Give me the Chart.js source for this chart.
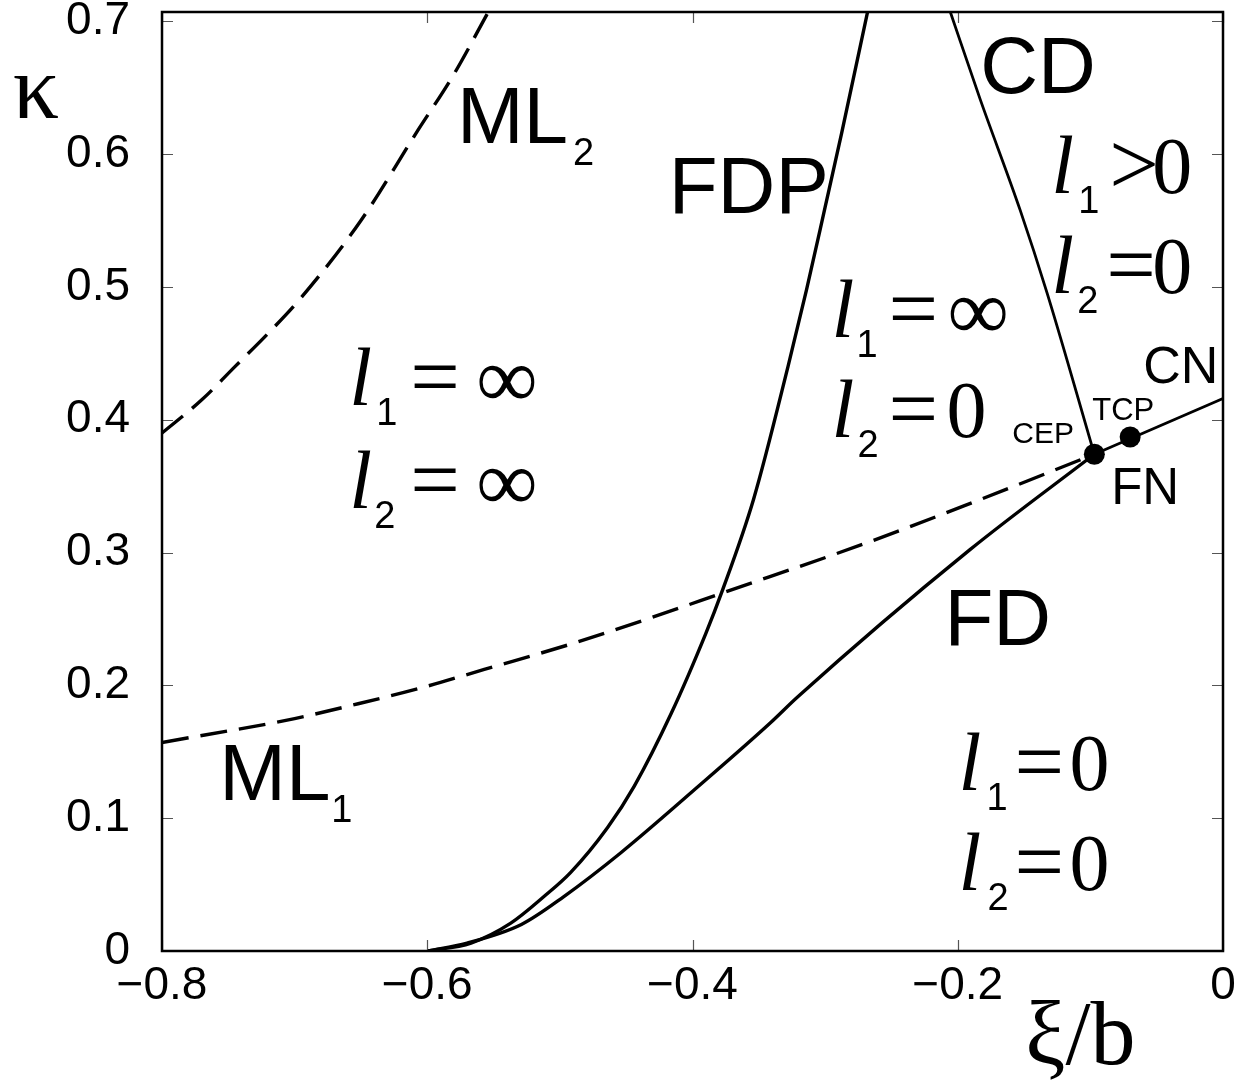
<!DOCTYPE html>
<html><head><meta charset="utf-8">
<script src="https://cdn.jsdelivr.net/npm/chart.js@4/dist/chart.umd.min.js"></script>
<style>html,body{margin:0;padding:0;background:#fff}canvas{display:block}</style>
</head><body>
<canvas id="c" width="1247" height="1086"></canvas>
<script>
// ---- tick values / labels ----
const xTicks = [-0.8, -0.6, -0.4, -0.2, 0];
const xTickLabels = ['\u22120.8', '\u22120.6', '\u22120.4', '\u22120.2', '0'];
const yTicks = [0, 0.1, 0.2, 0.3, 0.4, 0.5, 0.6, 0.7];
const yTickLabels = ['0', '0.1', '0.2', '0.3', '0.4', '0.5', '0.6', '0.7'];

// ---- series (x = xi/b, y = kappa) ----
const ml2X = [-0.8, -0.77, -0.745, -0.72, -0.695, -0.65, -0.607, -0.58, -0.554];
const ml2Y = [0.39, 0.415, 0.44, 0.465, 0.492, 0.55, 0.618, 0.66, 0.707];

const ml1X = [-0.8, -0.7, -0.657, -0.605, -0.557, -0.492, -0.431, -0.379, -0.264, -0.188, -0.097];
const ml1Y = [0.157, 0.175, 0.185, 0.198, 0.212, 0.231, 0.251, 0.269, 0.309, 0.338, 0.374];

const fdpX = [-0.6, -0.567, -0.537, -0.512, -0.492, -0.464, -0.444, -0.416, -0.390, -0.378, -0.354, -0.328, -0.314, -0.300, -0.2875, -0.268];
const fdpY = [0, 0.006, 0.021, 0.041, 0.059, 0.093, 0.124, 0.179, 0.239, 0.27, 0.34, 0.44, 0.498, 0.56, 0.616, 0.707];

const fnX = [-0.6, -0.57, -0.529, -0.497, -0.454, -0.399, -0.341, -0.321, -0.191, -0.097];
const fnY = [0, 0.006, 0.02, 0.041, 0.074, 0.121, 0.172, 0.191, 0.302, 0.374];

const cnX = [-0.097, 0];
const cnY = [0.374, 0.416];

const cdX = [-0.2056, -0.183, -0.153, -0.1325, -0.097];
const cdY = [0.707, 0.641, 0.558, 0.495, 0.374];

const pointX = [-0.097, -0.07];   // CEP, TCP
const pointY = [0.374, 0.387];

const SANS = '"Liberation Sans", Arial, Helvetica, sans-serif';
const SERIF = '"Liberation Serif", "Times New Roman", serif';

function pts(xs, ys) { return xs.map((x, i) => ({ x: x, y: ys[i] })); }

// ---- text annotations (anchor in data coords, parts offset in px) ----
const F_BIG = '80px ' + SANS, F_SUB = '38px ' + SANS;
const F_L = 'italic 82px ' + SERIF, F_M = '88px ' + SERIF, F_0 = '80px ' + SERIF, F_S = '38px ' + SANS;
const F_INF = '86px ' + SERIF;
function mathLine(x, y, sub, op, val, d) {
  return { x: x, y: y, parts: [
    { t: 'l', f: F_L, dx: 0, dy: 0 },
    { t: sub, f: F_S, dx: d[0], dy: 20 },
    { t: op, f: F_M, dx: d[1], dy: 1 },
    { t: val, f: val === '0' ? F_0 : F_INF, dx: d[2], dy: val === '0' ? 0 : 2 }
  ]};
}
const textLabels = [
  { x: -0.5761, y: 0.6084, parts: [{ t: 'ML', f: F_BIG, dx: -2, dy: 0 }, { t: '2', f: F_SUB, dx: 114, dy: 22 }] },
  { x: -0.7553, y: 0.1137, parts: [{ t: 'ML', f: F_BIG, dx: -2, dy: 0 }, { t: '1', f: F_SUB, dx: 110, dy: 22 }] },
  { x: -0.4164, y: 0.5557, parts: [{ t: 'FDP', f: F_BIG, dx: -2, dy: 0 }] },
  { x: -0.1807, y: 0.6461, parts: [{ t: 'CD', f: F_BIG, dx: -3, dy: 0 }] },
  { x: -0.2078, y: 0.2304, parts: [{ t: 'FD', f: F_BIG, dx: -3, dy: 0 }] },
  { x: -0.0587, y: 0.4277, parts: [{ t: 'CN', f: '52px ' + SANS, dx: -2, dy: 0 }] },
  { x: -0.0986, y: 0.3998, parts: [{ t: 'TCP', f: '31px ' + SANS, dx: 0, dy: 0 }] },
  { x: -0.1589, y: 0.3825, parts: [{ t: 'CEP', f: '30px ' + SANS, dx: 0, dy: 0 }] },
  { x: -0.0828, y: 0.3366, parts: [{ t: 'FN', f: '51px ' + SANS, dx: -2, dy: 0 }] },
  mathLine(-0.6589, 0.4111, '1', '=', '\u221E', [27, 61, 127]),
  mathLine(-0.6589, 0.3336, '2', '=', '\u221E', [25, 61, 127]),
  mathLine(-0.2952, 0.4623, '1', '=', '\u221E', [25, 57, 116]),
  mathLine(-0.2952, 0.3870, '2', '=', '0', [26, 57, 115]),
  mathLine(-0.1295, 0.5708, '1', '>', '0', [27, 58, 101]),
  mathLine(-0.1295, 0.4955, '2', '=', '0', [26, 55, 101]),
  mathLine(-0.1995, 0.1212, '1', '=', '0', [28, 56, 111]),
  mathLine(-0.1995, 0.0459, '2', '=', '0', [29, 56, 111]),
  { x: -0.9096, y: 0.6273, parts: [{ t: '\u03BA', f: '92px ' + SERIF, dx: -4, dy: 0 }] },
  { x: -0.1491, y: -0.0836, parts: [{ t: '\u03BE/b', f: '90px ' + SERIF, dx: 0, dy: 2 }] }
];

const framePlugin = {
  id: 'frame',
  afterDatasetsDraw(chart) {
    const { ctx, chartArea: a, scales } = chart;
    ctx.save();
    ctx.strokeStyle = '#555';
    ctx.lineWidth = 1.2;
    ctx.beginPath();
    xTicks.forEach(v => {
      const p = Math.round(scales.x.getPixelForValue(v)) + 0.5;
      ctx.moveTo(p, a.bottom); ctx.lineTo(p, a.bottom - 11);
      ctx.moveTo(p, a.top); ctx.lineTo(p, a.top + 11);
    });
    yTicks.forEach(v => {
      const p = Math.round(scales.y.getPixelForValue(v)) + 0.5;
      ctx.moveTo(a.left, p); ctx.lineTo(a.left + 11, p);
      ctx.moveTo(a.right, p); ctx.lineTo(a.right - 11, p);
    });
    ctx.stroke();
    ctx.strokeStyle = '#000';
    ctx.lineWidth = 2.5;
    ctx.strokeRect(a.left, a.top, a.right - a.left, a.bottom - a.top);
    ctx.restore();
  }
};

const labelPlugin = {
  id: 'labels',
  afterDraw(chart) {
    const { ctx, scales } = chart;
    ctx.save();
    ctx.fillStyle = '#000';
    ctx.textBaseline = 'alphabetic';
    ctx.textAlign = 'left';
    textLabels.forEach(l => {
      const px = scales.x.getPixelForValue(l.x);
      const py = scales.y.getPixelForValue(l.y);
      l.parts.forEach(p => {
        ctx.font = p.f;
        ctx.fillText(p.t, px + p.dx, py + p.dy);
      });
    });
    ctx.restore();
  }
};

const solid = { showLine: true, borderColor: '#000', borderWidth: 3.4, pointRadius: 0, fill: false, cubicInterpolationMode: 'monotone' };
const dashed = Object.assign({}, solid, { borderDash: [27, 12] });

new Chart(document.getElementById('c'), {
  type: 'scatter',
  data: {
    datasets: [
      Object.assign({ label: 'ML2', data: pts(ml2X, ml2Y) }, dashed),
      Object.assign({ label: 'ML1', data: pts(ml1X, ml1Y) }, dashed),
      Object.assign({ label: 'FDP', data: pts(fdpX, fdpY) }, solid),
      Object.assign({ label: 'FN', data: pts(fnX, fnY) }, solid),
      Object.assign({ label: 'CN', data: pts(cnX, cnY) }, solid, { borderWidth: 2.8 }),
      Object.assign({ label: 'CD', data: pts(cdX, cdY) }, solid, { borderWidth: 2.8 }),
      { label: 'points', data: pts(pointX, pointY), showLine: false, pointRadius: 10.5, pointBackgroundColor: '#000', pointBorderColor: '#000', pointBorderWidth: 0 }
    ]
  },
  options: {
    responsive: false,
    animation: false,
    devicePixelRatio: 1,
    layout: { padding: { top: 12, right: 24, left: 0, bottom: 0 } },
    plugins: { legend: { display: false }, tooltip: { enabled: false } },
    scales: {
      x: {
        type: 'linear', min: -0.8, max: 0,
        grid: { display: false }, border: { display: false },
        afterBuildTicks: s => { s.ticks = xTicks.map(v => ({ value: v })); },
        afterFit: s => { s.height = 135; s.paddingLeft = 0; s.paddingRight = 0; },
        ticks: { autoSkip: false, maxRotation: 0, minRotation: 0, padding: 0, color: '#000',
          font: { family: SANS, size: 46 }, callback: (v, i) => xTickLabels[i] }
      },
      y: {
        type: 'linear', min: 0, max: 0.707,
        grid: { display: false }, border: { display: false },
        afterBuildTicks: s => { s.ticks = yTicks.map(v => ({ value: v })); },
        afterFit: s => { s.width = 162; s.paddingTop = 0; s.paddingBottom = 0; },
        ticks: { autoSkip: false, padding: 24, color: '#000',
          font: { family: SANS, size: 46 }, callback: (v, i) => yTickLabels[i] }
      }
    }
  },
  plugins: [framePlugin, labelPlugin]
});
</script>
</body></html>
